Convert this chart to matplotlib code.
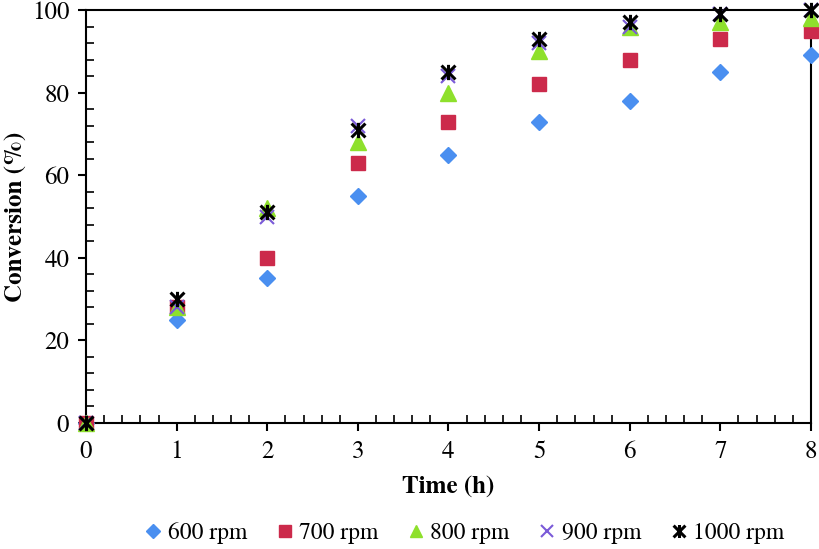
import numpy as np
import matplotlib.pyplot as plt
from matplotlib.path import Path
from matplotlib.ticker import MultipleLocator

time_h = [0, 1, 2, 3, 4, 5, 6, 7, 8]
conv_600 = [0, 25, 35, 55, 65, 73, 78, 85, 89]
conv_700 = [0, 28, 40, 63, 73, 82, 88, 93, 95]
conv_800 = [0, 28, 52, 68, 80, 90, 96, 97, 98]
conv_900 = [0, 28, 50, 72, 84, 92, 96, 99, 100]
conv_1000 = [0, 30, 51, 71, 85, 93, 97, 99, 100]

plt.rcParams['font.family'] = ['TeX Gyre Termes', 'Liberation Serif', 'DejaVu Serif']

# excel style "star" marker: an x with a vertical stroke
star = Path([(-1, -1), (1, 1), (-1, 1), (1, -1), (0, -1.1), (0, 1.1)],
            [Path.MOVETO, Path.LINETO, Path.MOVETO, Path.LINETO, Path.MOVETO, Path.LINETO])

fig = plt.figure(figsize=(8.19, 5.49), dpi=100)
ax = fig.add_axes([86 / 819, 126 / 549, 725 / 819, 413 / 549])

ax.plot(time_h, conv_600, linestyle='none', marker='D', markersize=8.5, color='#4a8ff0', label='600 rpm', clip_on=False, zorder=3)
ax.plot(time_h, conv_700, linestyle='none', marker='s', markersize=10, color='#cc2a4b', label='700 rpm', clip_on=False, zorder=3)
ax.plot(time_h, conv_800, linestyle='none', marker='^', markersize=11, color='#8ee02c', label='800 rpm', clip_on=False, zorder=3)
ax.plot(time_h, conv_900, linestyle='none', marker='x', markersize=10, markeredgewidth=1.5, color='#7a5ad8', label='900 rpm', clip_on=False, zorder=3)
ax.plot(time_h, conv_1000, linestyle='none', marker=star, markersize=11, markeredgewidth=2.2, color='black', label='1000 rpm', clip_on=False, zorder=4)

ax.set_xlim(0, 8)
ax.set_ylim(0, 100)
ax.xaxis.set_major_locator(MultipleLocator(1))
ax.xaxis.set_minor_locator(MultipleLocator(0.2))
ax.yaxis.set_major_locator(MultipleLocator(20))
ax.yaxis.set_minor_locator(MultipleLocator(4))
ax.tick_params(which='major', direction='out', length=6, width=1.5, labelsize=18, pad=6)
ax.tick_params(which='minor', direction='in', length=6, width=1.2)
ax.tick_params(top=False, right=False)
for s in ax.spines.values():
    s.set_linewidth(1.5)

ax.set_xlabel('Time (h)', fontsize=18, fontweight='bold', labelpad=9)
ax.set_ylabel('Conversion (%)', fontsize=18, fontweight='bold', labelpad=4)

ax.legend(loc='upper center', bbox_to_anchor=(0.52, -0.218), ncol=5, frameon=False, fontsize=17,
          handletextpad=0.1, columnspacing=1.1, handlelength=1.0, markerscale=0.85,
          borderaxespad=0)

fig.savefig('out.png', dpi=100)
